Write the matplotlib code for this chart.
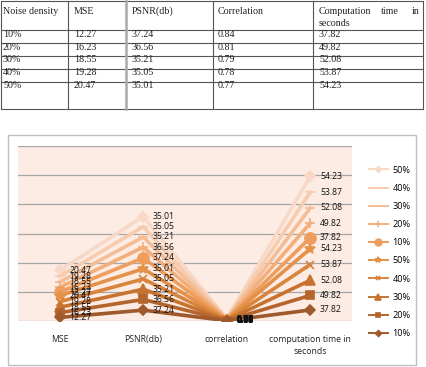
import numpy as np
import matplotlib
matplotlib.use("Agg")
import matplotlib.pyplot as plt

# ---- data ----
table_header = ["Noise density", "MSE", "PSNR(db)", "Correlation", "Computation time in seconds"]
noise = ["10%", "20%", "30%", "40%", "50%"]
mse = [12.27, 16.23, 18.55, 19.28, 20.47]
psnr = [37.24, 36.56, 35.21, 35.05, 35.01]
corr = [0.84, 0.81, 0.79, 0.78, 0.77]
comp = [37.82, 49.82, 52.08, 53.87, 54.23]
categories = ["MSE", "PSNR(db)", "correlation", "computation time in\nseconds"]

W, H = 427, 367
fig = plt.figure(figsize=(W / 100, H / 100), dpi=100)
fig.patch.set_facecolor("white")

# overlay axes in pixel coordinates for table and chart frame
ov = fig.add_axes([0, 0, 1, 1])
ov.set_xlim(0, W)
ov.set_ylim(H, 0)
ov.axis("off")

serif = "Liberation Serif"
tfs = 7.2
tc = "#222222"
# table lines
row_lines = [0.5, 29.5, 42.5, 55.5, 68.5, 81.5, 108.5]
col_lines = [0.5, 68.5, 126, 213.5, 313.5, 423.5]
for y in row_lines:
    ov.plot([0.5, 423.5], [y, y], color="#555555", lw=0.8, solid_capstyle="butt")
for i, xx in enumerate(col_lines):
    if i == 2:
        ov.plot([xx, xx], [0.5, 108.5], color="#AAAAAA", lw=1.8)
    else:
        ov.plot([xx, xx], [0.5, 108.5], color="#555555", lw=0.8)
col_x = [3, 74, 132, 218, 319]
hb = 14
for i in range(4):
    ov.text(col_x[i], hb, table_header[i], family=serif, fontsize=tfs, va="baseline", ha="left", color=tc)
ov.text(319, hb, "Computation", family=serif, fontsize=tfs, va="baseline", ha="left", color=tc)
ov.text(381, hb, "time", family=serif, fontsize=tfs, va="baseline", ha="left", color=tc)
ov.text(420, hb, "in", family=serif, fontsize=tfs, va="baseline", ha="right", color=tc)
ov.text(319, 26, "seconds", family=serif, fontsize=tfs, va="baseline", ha="left", color=tc)
row_b = [37.0, 49.7, 62.4, 75.2, 87.8]
for r in range(5):
    vals_r = [noise[r], f"{mse[r]:.2f}", f"{psnr[r]:.2f}", f"{corr[r]:.2f}", f"{comp[r]:.2f}"]
    for c in range(5):
        ov.text(col_x[c], row_b[r], vals_r[c], family=serif, fontsize=tfs, va="baseline", ha="left", color=tc)

# chart outer border
ov.add_patch(plt.Rectangle((8, 135), 408, 230, fill=False, edgecolor="#BFBFBF", lw=1.0))

# ---- chart ----
pl, pr, pt, pb = 18, 352, 146, 321
ax = fig.add_axes([pl / W, (H - pb) / H, (pr - pl) / W, (pb - pt) / H])
ax.set_facecolor("#FCECE3")
for s in ax.spines.values():
    s.set_visible(False)

series_vals = [[mse[i], psnr[i], corr[i], comp[i]] for i in range(5)] * 2
series_names = noise * 2
colors = ["#9E5A2C", "#B4652D", "#C7732F", "#D9843C", "#E4914A",
          "#EE9D5C", "#F2AE7B", "#F4BD95", "#F6CBAE", "#F8D8C6"]
markers = ["D", "s", "^", "x", "*", "o", "+", "_", "_", "D"]
msizes = [5, 6, 7, 6, 7, 8, 7, 7, 7, 5]

x = np.arange(len(categories))
vals = np.array(series_vals)
cum = np.cumsum(vals, axis=0)

for y in range(0, 601, 100):
    ax.axhline(y, color="#A6A6A6", lw=0.9, zorder=1)

handles = []
sans = "Open Sans"
for k in range(len(vals)):
    ln, = ax.plot(x, cum[k], color=colors[k], lw=2.6, marker=markers[k], ms=msizes[k],
                  mec=colors[k], mfc=colors[k], mew=1.2, zorder=3 + (10 - k) * 0.01,
                  solid_joinstyle="round")
    handles.append(ln)
    for j in range(len(x)):
        ax.annotate(f"{vals[k][j]:.2f}", (x[j], cum[k][j]), xytext=(7, 0),
                    textcoords="offset points", va="center", ha="left",
                    fontsize=6.2, family=sans, color="#111111", zorder=5,
                    fontweight="bold" if j == 2 else "normal")

ax.set_xlim(-0.5, len(categories) - 0.5)
ax.set_ylim(0, 600)
ax.set_yticks([])
ax.set_xticks(x)
ax.set_xticklabels(categories, family=sans, fontsize=6.2, color=tc, linespacing=1.5)
ax.tick_params(axis="x", length=0, pad=10)

leg = fig.legend(handles[::-1], series_names[::-1], loc="upper left",
                 bbox_to_anchor=(364 / W, 1 - 161 / H), frameon=False,
                 prop={"family": sans, "size": 6.6}, labelspacing=1.0,
                 handlelength=2.1, handletextpad=0.5, borderpad=0, markerscale=0.6)
for lh in leg.get_lines():
    lh.set_linewidth(1.4)

fig.savefig("out.png", dpi=100, facecolor="white")
